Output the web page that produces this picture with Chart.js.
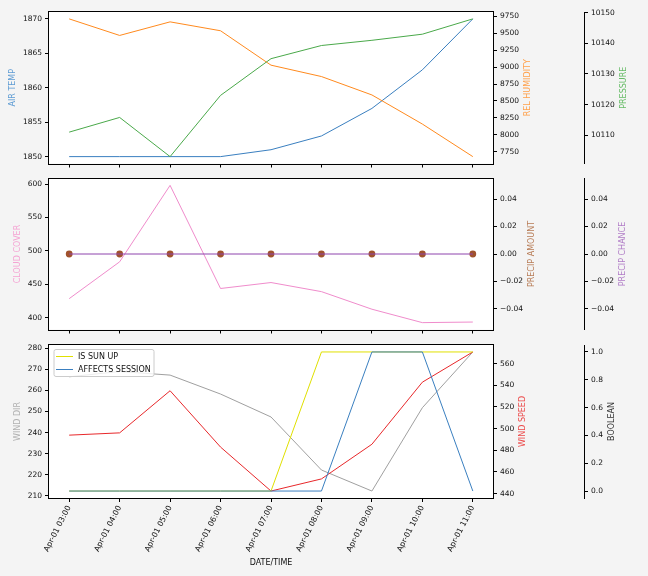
<!DOCTYPE html>
<html>
<head>
<meta charset="utf-8">
<script src="https://cdn.jsdelivr.net/npm/chart.js@4.4.1/dist/chart.umd.min.js"></script>
<style>
  html, body { margin: 0; padding: 0; background: #f4f4f4; }
  #wrap { position: relative; width: 648px; height: 576px; overflow: hidden; }
  canvas { position: absolute; left: 0; }
</style>
</head>
<body>
<div id="wrap">
  <canvas id="c1" width="648" height="171" style="top:0px"></canvas>
  <canvas id="c2" width="648" height="166" style="top:171px"></canvas>
  <canvas id="c3" width="648" height="239" style="top:337px"></canvas>
</div>
<script>
// hourly readings
const timeLabels = ["Apr-01 03:00", "Apr-01 04:00", "Apr-01 05:00", "Apr-01 06:00", "Apr-01 07:00",
  "Apr-01 08:00", "Apr-01 09:00", "Apr-01 10:00", "Apr-01 11:00"];
const airTemp = [1850, 1850, 1850, 1850, 1851, 1853, 1857, 1862.6, 1870];
const relHumidity = [9710, 9466, 9666, 9535, 9028, 8860, 8589, 8160, 7680];
const pressure = [10111, 10115.8, 10103, 10123, 10135, 10139.3, 10141, 10143, 10148];
const cloudCover = [428.5, 483.6, 598, 443.7, 452.6, 439, 412.7, 392.6, 393.5];
const precipAmount = [0, 0, 0, 0, 0, 0, 0, 0, 0];
const precipChance = [0, 0, 0, 0, 0, 0, 0, 0, 0];
const windDir = [266.5, 269, 267.3, 258.3, 247.4, 222.2, 212.2, 251.8, 278.3];
const windSpeed = [494, 496.1, 535, 483, 442.4, 453.6, 485.6, 542.9, 570.8];
const isSunUp = [0, 0, 0, 0, 0, 1, 1, 1, 1];
const affectsSession = [0, 0, 0, 0, 0, 0, 1, 1, 0];

// tick values
const airTempTicks = [1850, 1855, 1860, 1865, 1870];
const humidityTicks = [7750, 8000, 8250, 8500, 8750, 9000, 9250, 9500, 9750];
const pressureTicks = [10110, 10120, 10130, 10140, 10150];
const cloudTicks = [400, 450, 500, 550, 600];
const precipTicks = [-0.04, -0.02, 0, 0.02, 0.04];
const windDirTicks = [210, 220, 230, 240, 250, 260, 270, 280];
const windSpeedTicks = [440, 460, 480, 500, 520, 540, 560];
const boolTicks = [0, 0.2, 0.4, 0.6, 0.8, 1.0];

const FONT = "'DejaVu Sans', sans-serif";
const TICK_FONT = { family: FONT, size: 7.5 };

// matplotlib style 5% margins
function range(values) {
  let lo = Math.min(...values), hi = Math.max(...values);
  if (lo === hi) { lo -= 0.05; hi += 0.05; }
  const pad = (hi - lo) * 0.05;
  return { min: lo - pad, max: hi + pad };
}

function fmtTick(v, decimals) {
  const s = Math.abs(v).toFixed(decimals);
  return (v < -1e-9 ? "\u2212" : "") + s;
}

function yAxis(position, values, ticks, decimals, width, weight, title, titleColor, border) {
  const r = range(values);
  return {
    type: "linear",
    position,
    weight,
    min: r.min,
    max: r.max,
    title: { display: false, text: title, color: titleColor },
    border: { display: border, color: "#000", width: 1 },
    grid: { drawOnChartArea: false, drawTicks: true, tickLength: 4, color: "#000" },
    ticks: {
      font: TICK_FONT, color: "#111", padding: 3,
      callback: v => fmtTick(v, decimals)
    },
    afterBuildTicks: s => {
      s.ticks = ticks.filter(v => v >= s.min && v <= s.max).map(v => ({ value: v }));
    },
    afterFit: s => { s.width = width; }
  };
}

function xAxis(showLabels, height) {
  return {
    type: "linear",
    min: -0.4,
    max: 8.4,
    border: { display: false },
    grid: { drawOnChartArea: false, drawTicks: true, tickLength: 4, color: "#000" },
    ticks: {
      display: showLabels,
      font: { family: FONT, size: 7.8 }, color: "#111", padding: 2,
      autoSkip: false, minRotation: 63, maxRotation: 63,
      callback: v => timeLabels[v] ?? ""
    },
    title: {
      display: showLabels, text: "DATE/TIME",
      font: { family: FONT, size: 8 }, color: "#111",
      padding: { top: 0, bottom: 8 }
    },
    afterBuildTicks: s => { s.ticks = timeLabels.map((_, i) => ({ value: i })); },
    afterFit: s => { s.height = height; }
  };
}

const pts = arr => arr.map((y, i) => ({ x: i, y }));

const line = (label, data, color, yAxisID, order) => ({
  label, data: pts(data), borderColor: color, backgroundColor: color,
  borderWidth: 1, pointRadius: 0, tension: 0, yAxisID, order
});

// white plot area, black frame, matplotlib-like rotated axis labels
const framePlugin = {
  id: "frame",
  beforeDraw(chart) {
    const { ctx, chartArea: a } = chart;
    ctx.save();
    ctx.fillStyle = "#fff";
    ctx.fillRect(a.left, a.top, a.right - a.left, a.bottom - a.top);
    ctx.restore();
  },
  afterDraw(chart) {
    const { ctx, chartArea: a } = chart;
    ctx.save();
    ctx.strokeStyle = "#000";
    ctx.lineWidth = 1;
    const l = Math.round(a.left) - 0.5, t = Math.round(a.top) - 0.5;
    const r = Math.round(a.right) + 0.5, b = Math.round(a.bottom) + 0.5;
    ctx.strokeRect(l, t, r - l, b - t);

    Object.values(chart.scales).forEach(s => {
      if (s.axis !== "y") return;
      const t = s.options.title;
      ctx.font = "7.5px " + FONT;
      const widest = Math.max(...s.ticks.map(k => ctx.measureText(k.label || "").width));
      let cx;
      if (s.position === "left") {
        cx = a.left - 7 - widest - 9.5;
      } else {
        cx = s.left + 7 + widest + 9;
      }
      const cy = (a.top + a.bottom) / 2;
      ctx.save();
      ctx.translate(cx, cy);
      ctx.rotate(-Math.PI / 2);
      ctx.font = "8px " + FONT;
      ctx.fillStyle = t.color;
      ctx.textAlign = "center";
      ctx.textBaseline = "middle";
      ctx.fillText(t.text, 0, 0);
      ctx.restore();
    });
    ctx.restore();
  }
};

// legend box drawn inside the plot area, upper left
const insideLegend = {
  id: "insideLegend",
  afterDatasetsDraw(chart, args, opts) {
    if (!opts.items) return;
    const { ctx, chartArea: a } = chart;
    const x = a.left + 4.5, y = a.top + 4;
    ctx.save();
    ctx.fillStyle = "rgba(255,255,255,0.8)";
    ctx.strokeStyle = "#cccccc";
    ctx.lineWidth = 1;
    ctx.beginPath();
    ctx.roundRect(x + 0.5, y + 0.5, 100, 27, 2);
    ctx.fill();
    ctx.stroke();
    ctx.font = "8px " + FONT;
    ctx.textBaseline = "middle";
    opts.items.forEach((idx, i) => {
      const ds = chart.data.datasets[idx];
      const ly = Math.round(y + 7 + i * 13) + 0.5;
      ctx.strokeStyle = ds.borderColor;
      ctx.beginPath();
      ctx.moveTo(x + 2.5, ly);
      ctx.lineTo(x + 19.5, ly);
      ctx.stroke();
      ctx.fillStyle = "#111";
      ctx.fillText(ds.label, x + 24.5, ly);
    });
    ctx.restore();
  }
};

Chart.register(framePlugin, insideLegend);

const baseOptions = (paddingTop, scales, legendItems) => ({
  responsive: false,
  animation: false,
  layout: { padding: { top: paddingTop, left: 0, right: 0, bottom: 0 } },
  plugins: {
    legend: { display: false },
    tooltip: { enabled: false },
    insideLegend: { items: legendItems }
  },
  scales
});

// panel 1: temperature, humidity, pressure
new Chart(document.getElementById("c1"), {
  type: "line",
  data: {
    datasets: [
      line("AIR TEMP", airTemp, "#3a7fc0", "yTemp", 3),
      line("REL HUMIDITY", relHumidity, "#ff8a1e", "yHum", 2),
      line("PRESSURE", pressure, "#4aa94a", "yPress", 1)
    ]
  },
  options: baseOptions(12, {
    x: xAxis(false, 6),
    yTemp: yAxis("left", airTemp, airTempTicks, 0, 49, 0, "AIR TEMP", "#5d9bd3", false),
    yHum: yAxis("right", relHumidity, humidityTicks, 0, 91, 0, "REL HUMIDITY", "#ffa04a", false),
    yPress: yAxis("right", pressure, pressureTicks, 0, 64, 1, "PRESSURE", "#66bb66", true)
  }, null)
});

// panel 2: cloud cover and precipitation
new Chart(document.getElementById("c2"), {
  type: "line",
  data: {
    datasets: [
      line("CLOUD COVER", cloudCover, "#f08ccc", "yCloud", 3),
      Object.assign(line("PRECIP AMOUNT", precipAmount, "#a0522d", "yAmt", 2), {
        showLine: false, pointRadius: 3.4, pointBorderWidth: 0, pointBackgroundColor: "#a0522d"
      }),
      line("PRECIP CHANCE", precipChance, "#8e44ad", "yChance", 1)
    ]
  },
  options: baseOptions(7, {
    x: xAxis(false, 6),
    yCloud: yAxis("left", cloudCover, cloudTicks, 0, 49, 0, "CLOUD COVER", "#f5a3d3", false),
    yAmt: yAxis("right", precipAmount, precipTicks, 2, 91, 0, "PRECIP AMOUNT", "#b77b55", false),
    yChance: yAxis("right", precipChance, precipTicks, 2, 64, 1, "PRECIP CHANCE", "#b07cc6", true)
  }, null)
});

// panel 3: wind and flags
new Chart(document.getElementById("c3"), {
  type: "line",
  data: {
    datasets: [
      line("WIND DIR", windDir, "#a0a0a0", "yDir", 4),
      line("WIND SPEED", windSpeed, "#e8282b", "ySpeed", 3),
      line("IS SUN UP", isSunUp, "#e0e000", "yBool", 2),
      line("AFFECTS SESSION", affectsSession, "#3a7fc0", "yBool", 1)
    ]
  },
  options: baseOptions(8, {
    x: xAxis(true, 78),
    yDir: yAxis("left", windDir, windDirTicks, 0, 49, 0, "WIND DIR", "#b0b0b0", false),
    ySpeed: yAxis("right", windSpeed, windSpeedTicks, 0, 91, 0, "WIND SPEED", "#ec4a4a", false),
    yBool: yAxis("right", isSunUp.concat(affectsSession), boolTicks, 1, 64, 1, "BOOLEAN", "#333", true)
  }, [2, 3])
});
</script>
</body>
</html>
